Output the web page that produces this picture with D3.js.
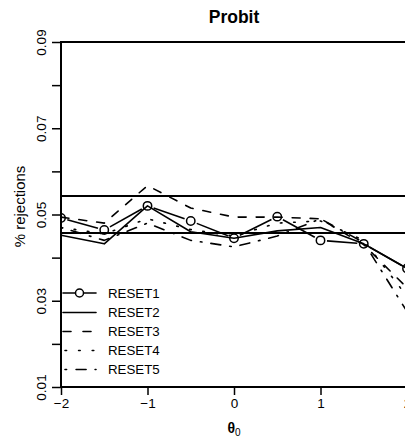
<!DOCTYPE html>
<html>
<head>
<meta charset="utf-8">
<script src="https://cdn.jsdelivr.net/npm/d3@7"></script>
<style>
  html, body { margin: 0; padding: 0; background: #fff; }
  svg { display: block; font-family: "Liberation Sans", Arial, Helvetica, sans-serif; }
</style>
</head>
<body>
<svg id="chart" width="405" height="441"></svg>
<script>
// Rejection rates of the five RESET variants across theta_0 (probit model)
const theta = [-2, -1.5, -1, -0.5, 0, 0.5, 1, 1.5, 2];
const reset1 = [0.0492, 0.0464, 0.0520, 0.0485, 0.0445, 0.0495, 0.0440, 0.0432, 0.0375];
const reset2 = [0.0452, 0.0432, 0.0520, 0.0460, 0.0445, 0.0462, 0.0470, 0.0432, 0.0375];
const reset3 = [0.0494, 0.0480, 0.0567, 0.0515, 0.0494, 0.0494, 0.0490, 0.0430, 0.0330];
const reset4 = [0.0470, 0.0455, 0.0490, 0.0465, 0.0450, 0.0480, 0.0485, 0.0440, 0.0310];
const reset5 = [0.0470, 0.0440, 0.0480, 0.0440, 0.0425, 0.0450, 0.0490, 0.0435, 0.0275];
const seriesNames = ["RESET1", "RESET2", "RESET3", "RESET4", "RESET5"];
const xTicks = [-2, -1, 0, 1, 2];
const yTicks = [0.01, 0.02, 0.03, 0.04, 0.05, 0.06, 0.07, 0.08, 0.09];
const yTickLabels = [0.01, 0.03, 0.05, 0.07, 0.09];
// nominal 5% level with its 95% Monte Carlo band
const bandLines = [0.0543, 0.0457];

(function draw() {
  const svg = d3.select("#chart");
  const pL = 61, pR = 407, pT = 42, pB = 387;

  const x = d3.scaleLinear().domain([-2, 2]).range([pL, pR]);
  const y = d3.scaleLinear().domain([0.01, 0.09]).range([pB, pT]);

  // title
  svg.append("text")
    .attr("x", x(0)).attr("y", 23)
    .attr("text-anchor", "middle")
    .attr("font-weight", "bold")
    .attr("font-size", 17.5)
    .text("Probit");

  // clip for plotting region
  svg.append("clipPath").attr("id", "plotclip")
    .append("rect").attr("x", pL).attr("y", pT)
    .attr("width", pR - pL).attr("height", pB - pT);

  // band lines
  svg.append("g").selectAll("line").data(bandLines).join("line")
    .attr("x1", pL).attr("x2", pR)
    .attr("y1", d => y(d)).attr("y2", d => y(d))
    .attr("stroke", "#000").attr("stroke-width", 2);

  // series
  const data = [reset1, reset2, reset3, reset4, reset5];
  const dashes = [null, null, "8,10", "1.6,11.7", "1.6,9,10,9"];
  const plot = svg.append("g").attr("clip-path", "url(#plotclip)");
  const line = d3.line().x((d, i) => x(theta[i])).y(d => y(d));

  [1, 2, 3, 4].forEach(k => {
    plot.append("path")
      .attr("d", line(data[k]))
      .attr("fill", "none")
      .attr("stroke", "#000")
      .attr("stroke-width", 1.6)
      .attr("stroke-linecap", "round")
      .attr("stroke-linejoin", "round")
      .attr("stroke-dasharray", dashes[k]);
  });

  // RESET1: points joined by segments that stop short of each marker
  const pts = reset1.map((v, i) => [x(theta[i]), y(v)]);
  const gap = 6.5;
  const segs = [];
  for (let i = 0; i < pts.length - 1; i++) {
    const [x0, y0] = pts[i], [x1, y1] = pts[i + 1];
    const len = Math.hypot(x1 - x0, y1 - y0);
    if (len <= 2 * gap) continue;
    const ux = (x1 - x0) / len, uy = (y1 - y0) / len;
    segs.push([x0 + ux * gap, y0 + uy * gap, x1 - ux * gap, y1 - uy * gap]);
  }
  plot.append("g").selectAll("line").data(segs).join("line")
    .attr("x1", d => d[0]).attr("y1", d => d[1])
    .attr("x2", d => d[2]).attr("y2", d => d[3])
    .attr("stroke", "#000").attr("stroke-width", 1.6);
  plot.append("g").selectAll("circle").data(pts).join("circle")
    .attr("cx", d => d[0]).attr("cy", d => d[1]).attr("r", 4.2)
    .attr("fill", "none").attr("stroke", "#000").attr("stroke-width", 1.5);

  // frame
  svg.append("rect")
    .attr("x", pL).attr("y", pT)
    .attr("width", pR - pL).attr("height", pB - pT)
    .attr("fill", "none").attr("stroke", "#000").attr("stroke-width", 2);

  // axes
  const yAxis = d3.axisLeft(y).tickValues(yTicks).tickSize(9)
    .tickFormat(d => yTickLabels.some(t => Math.abs(t - d) < 1e-9) ? d3.format(".2f")(d) : "");
  const gy = svg.append("g").attr("transform", `translate(${pL},0)`).call(yAxis);
  gy.select(".domain").remove();
  gy.selectAll(".tick line").attr("stroke-width", 1.5);
  gy.selectAll(".tick text")
    .attr("font-size", 13.5).attr("font-family", "Liberation Sans, Arial, sans-serif")
    .attr("fill", "#000")
    .attr("x", null).attr("dy", null)
    .attr("text-anchor", "middle")
    .attr("transform", "translate(-15,0) rotate(-90)")
    .attr("y", 0);

  const xAxis = d3.axisBottom(x).tickValues(xTicks).tickSize(8)
    .tickFormat(d => d < 0 ? "\u2212" + Math.abs(d) : String(d));
  const gx = svg.append("g").attr("transform", `translate(0,${pB})`).call(xAxis);
  gx.select(".domain").remove();
  gx.selectAll(".tick line").attr("stroke-width", 1.5);
  gx.selectAll(".tick text")
    .attr("font-size", 13.5).attr("font-family", "Liberation Sans, Arial, sans-serif")
    .attr("fill", "#000").attr("y", 11).attr("dy", "0.71em");

  // axis titles
  svg.append("text")
    .attr("transform", `translate(25,${(pT + pB) / 2 - 8}) rotate(-90)`)
    .attr("text-anchor", "middle")
    .attr("font-size", 15)
    .text("% rejections");

  const xt = svg.append("text")
    .attr("x", x(0)).attr("y", 433)
    .attr("text-anchor", "middle")
    .attr("font-size", 14);
  xt.append("tspan").attr("font-weight", "bold").text("\u03b8");
  xt.append("tspan").attr("font-size", 10).attr("dy", 3).text("0");

  // legend
  const legendY = [293, 312.5, 331.5, 350.5, 369.5];
  const lg = svg.append("g");
  seriesNames.forEach((name, k) => {
    const ly = legendY[k];
    lg.append("line")
      .attr("x1", 63).attr("x2", 96).attr("y1", ly).attr("y2", ly)
      .attr("stroke", "#000").attr("stroke-width", 1.6)
      .attr("stroke-linecap", "round")
      .attr("stroke-dasharray", k === 2 ? "8,12" : k === 3 ? "1.6,12" : k === 4 ? "1.6,9.5,10,9" : null)
      .attr("stroke-dashoffset", k >= 3 ? -2 : 0);
    if (k === 0) {
      lg.append("circle").attr("cx", 79.5).attr("cy", ly).attr("r", 4)
        .attr("fill", "#fff").attr("stroke", "#000").attr("stroke-width", 1.5);
    }
    lg.append("text")
      .attr("x", 108).attr("y", ly).attr("dy", "0.36em")
      .attr("font-size", 13.3)
      .text(name);
  });
})();
</script>
</body>
</html>
